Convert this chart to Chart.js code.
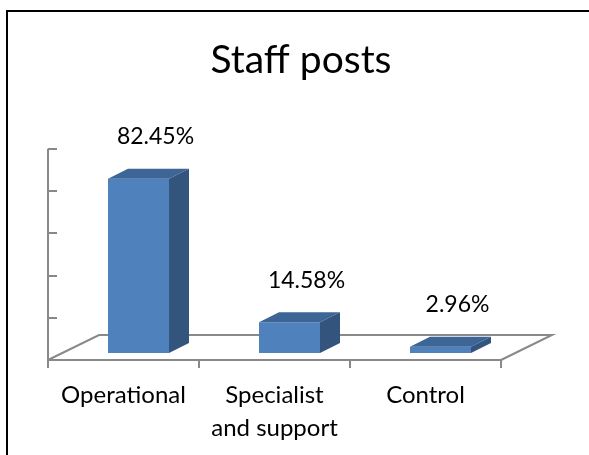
<!DOCTYPE html>
<html>
<head>
<meta charset="utf-8">
<script src="https://cdn.jsdelivr.net/npm/chart.js@4"></script>
<style>
  html, body { margin: 0; padding: 0; background: #fff; }
  #wrap { position: relative; width: 589px; height: 455px; }
</style>
</head>
<body>
<div id="wrap"><canvas id="c" width="589" height="455"></canvas></div>
<script>
const categories = ['Operational', ['Specialist', 'and support'], 'Control'];
const values = [82.45, 14.58, 2.96];
const valueLabels = ['82.45%', '14.58%', '2.96%'];
const yTicks = [0, 20, 40, 60, 80, 100];

const AXIS_COLOR = '#898989';
const FRONT = '#4F81BD';
const TOP = '#3D6596';
const SIDE = '#33547C';
const FONT = 'Lato';

// 3D geometry (pixels)
const FLOOR_DX = 51, FLOOR_DY = -25;   // depth of the floor
const BAR_SHIFT_X = 15, BAR_SHIFT_Y = -7; // bars sit in the middle of the floor depth
const BAR_DX = 20, BAR_DY = -10;       // depth of each bar

const threeD = {
  id: 'threeD',
  beforeDraw(chart) {
    const ctx = chart.ctx;
    ctx.save();
    ctx.fillStyle = '#fff';
    ctx.fillRect(0, 0, chart.width, chart.height);
    ctx.fillStyle = '#000';
    ctx.fillRect(6, 10, 2, chart.height - 10);
    ctx.fillRect(6, 10, chart.width - 6, 2);
    ctx.restore();
  },
  beforeDatasetsDraw(chart) {
    const ctx = chart.ctx;
    const a = chart.chartArea;
    const y = chart.scales.y;
    const y0 = y.getPixelForValue(0);
    ctx.save();
    ctx.strokeStyle = AXIS_COLOR;
    ctx.lineWidth = 2;
    // floor
    ctx.beginPath();
    ctx.moveTo(a.left, y0);
    ctx.lineTo(a.left + FLOOR_DX, y0 + FLOOR_DY);
    ctx.lineTo(a.right + FLOOR_DX, y0 + FLOOR_DY);
    ctx.lineTo(a.right, y0);
    ctx.stroke();
    // vertical axis with inward ticks
    ctx.beginPath();
    ctx.moveTo(a.left, y0 + 1);
    ctx.lineTo(a.left, y.getPixelForValue(yTicks[yTicks.length - 1]));
    ctx.stroke();
    ctx.beginPath();
    yTicks.forEach(v => {
      const py = Math.round(y.getPixelForValue(v));
      ctx.moveTo(a.left, py);
      ctx.lineTo(a.left + 9, py);
    });
    ctx.stroke();
    ctx.restore();
    ctx.save();
    ctx.translate(BAR_SHIFT_X, BAR_SHIFT_Y);
  },
  afterDatasetsDraw(chart) {
    const ctx = chart.ctx;
    const meta = chart.getDatasetMeta(0);
    meta.data.forEach(bar => {
      const p = bar.getProps(['x', 'y', 'base', 'width'], true);
      const l = p.x - p.width / 2, r = p.x + p.width / 2;
      ctx.fillStyle = TOP;
      ctx.beginPath();
      ctx.moveTo(l, p.y);
      ctx.lineTo(l + BAR_DX, p.y + BAR_DY);
      ctx.lineTo(r + BAR_DX, p.y + BAR_DY);
      ctx.lineTo(r, p.y);
      ctx.closePath();
      ctx.fill();
      ctx.fillStyle = SIDE;
      ctx.beginPath();
      ctx.moveTo(r, p.y);
      ctx.lineTo(r + BAR_DX, p.y + BAR_DY);
      ctx.lineTo(r + BAR_DX, p.base + BAR_DY);
      ctx.lineTo(r, p.base);
      ctx.closePath();
      ctx.fill();
    });
    ctx.restore();
    // value labels
    ctx.save();
    ctx.fillStyle = '#000';
    ctx.font = '23px ' + FONT;
    ctx.textAlign = 'center';
    ctx.textBaseline = 'middle';
    meta.data.forEach((bar, i) => {
      const p = bar.getProps(['x', 'y'], true);
      ctx.fillText(valueLabels[i], p.x + 32, p.y + BAR_SHIFT_Y - 42);
    });
    ctx.restore();
  }
};

new Chart(document.getElementById('c'), {
  type: 'bar',
  data: {
    labels: categories,
    datasets: [{
      data: values,
      backgroundColor: FRONT,
      borderWidth: 0,
      barPercentage: 0.404,
      categoryPercentage: 1.0
    }]
  },
  options: {
    responsive: false,
    animation: false,
    devicePixelRatio: 1,
    layout: { padding: { left: 13, right: 0, top: 0, bottom: 0 } },
    plugins: {
      legend: { display: false },
      tooltip: { enabled: false },
      title: {
        display: true,
        text: 'Staff posts',
        color: '#000',
        font: { family: FONT, size: 39, weight: 'normal', lineHeight: 1.2 },
        padding: { top: 37, bottom: 65 }
      }
    },
    scales: {
      x: {
        type: 'category',
        offset: true,
        grid: {
          display: true, drawOnChartArea: false, drawTicks: true,
          tickLength: 8, color: AXIS_COLOR, lineWidth: 2, offset: true
        },
        border: { display: true, color: AXIS_COLOR, width: 2 },
        ticks: {
          color: '#000', padding: 11, maxRotation: 0, autoSkip: false,
          font: { family: FONT, size: 24, lineHeight: 1.38 }
        },
        afterFit(s) { s.height = 95; }
      },
      y: {
        type: 'linear', min: 0, max: 100,
        ticks: { display: false, stepSize: 20 },
        grid: { display: false },
        border: { display: false },
        afterFit(s) { s.width = 35; }
      },
      y2: {
        type: 'linear', position: 'right', min: 0, max: 1,
        ticks: { display: false },
        grid: { display: false },
        border: { display: false },
        afterFit(s) { s.width = 88; }
      }
    }
  },
  plugins: [threeD]
});
</script>
</body>
</html>
